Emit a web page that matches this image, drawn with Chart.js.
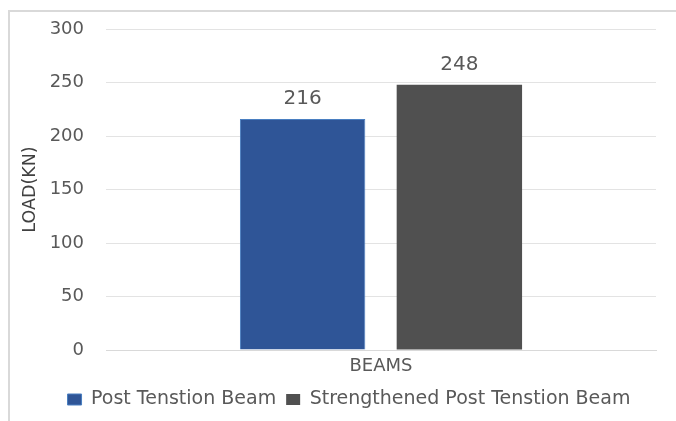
<!DOCTYPE html>
<html>
<head>
<meta charset="utf-8">
<script src="https://cdn.jsdelivr.net/npm/chart.js@4.4.0/dist/chart.umd.min.js"></script>
<style>
  html, body { margin: 0; padding: 0; background: #ffffff; overflow: hidden; }
  #frame { position: absolute; left: 8px; top: 10px; width: 700px; height: 450px; border: 2px solid #d9d9d9; box-sizing: border-box; }
  #wrap { position: absolute; left: 0; top: 0; width: 676px; height: 421px; }
</style>
</head>
<body>
<div id="frame"></div>
<div id="wrap"><canvas id="c" width="676" height="421"></canvas></div>
<script>
// ---- data ----
const categories = ["BEAMS"];
const seriesNames = ["Post Tenstion Beam", "Strengthened Post Tenstion Beam"];
const postTensionValues = [216];
const strengthenedValues = [248];
const yTicks = [0, 50, 100, 150, 200, 250, 300];
const yTitle = "LOAD(KN)";

const FONT = "'DejaVu Sans', sans-serif";
const TEXT = "#595959";

const valueLabels = {
  id: "valueLabels",
  afterDatasetsDraw(chart) {
    const ctx = chart.ctx;
    ctx.save();
    ctx.font = "20px " + FONT;
    ctx.fillStyle = TEXT;
    ctx.textAlign = "center";
    ctx.textBaseline = "middle";
    chart.data.datasets.forEach((ds, i) => {
      chart.getDatasetMeta(i).data.forEach((bar, j) => {
        ctx.fillText(String(ds.data[j]), bar.x, bar.y - 20);
      });
    });
    ctx.restore();
  }
};

const shiftLegend = {
  id: "shiftLegend",
  afterLayout(chart) {
    if (chart.legend) { chart.legend.left += 16; chart.legend.right += 16; }
  }
};

new Chart(document.getElementById("c"), {
  type: "bar",
  data: {
    labels: categories,
    datasets: [
      { label: seriesNames[0], data: postTensionValues, backgroundColor: "#2F5597", borderColor: "#4A7FC1", borderWidth: 1,
        categoryPercentage: 0.57, barPercentage: 0.8 },
      { label: seriesNames[1], data: strengthenedValues, backgroundColor: "#505050", borderColor: "#505050", borderWidth: 0,
        categoryPercentage: 0.57, barPercentage: 0.8 }
    ]
  },
  options: {
    responsive: false,
    animation: false,
    devicePixelRatio: 1,
    layout: { padding: { left: 10, right: 20, top: 29, bottom: 2 } },
    plugins: {
      legend: {
        position: "bottom",
        labels: { font: { family: FONT, size: 19 }, color: TEXT, boxWidth: 14, boxHeight: 11, padding: 10 }
      },
      tooltip: { enabled: false }
    },
    scales: {
      x: {
        grid: { display: false, drawTicks: false },
        border: { display: true, color: "#d9d9d9", width: 1 },
        ticks: { font: { family: FONT, size: 18 }, color: TEXT, padding: 6 },
        afterFit(s) { s.height = 30; }
      },
      y: {
        min: 0, max: 300,
        afterBuildTicks(s) { s.ticks = yTicks.map(v => ({ value: v })); },
        grid: { color: "#e3e3e3", lineWidth: 1, drawTicks: false },
        border: { display: false },
        ticks: { font: { family: FONT, size: 18 }, color: TEXT, padding: 22 },
        title: { display: true, text: yTitle, font: { family: FONT, size: 17.5 }, color: "#404040", padding: { top: 10, bottom: 0 } },
        afterFit(s) { s.width = 96; s.paddingTop = 0; s.paddingBottom = 0; }
      }
    }
  },
  plugins: [valueLabels, shiftLegend]
});
</script>
</body>
</html>
